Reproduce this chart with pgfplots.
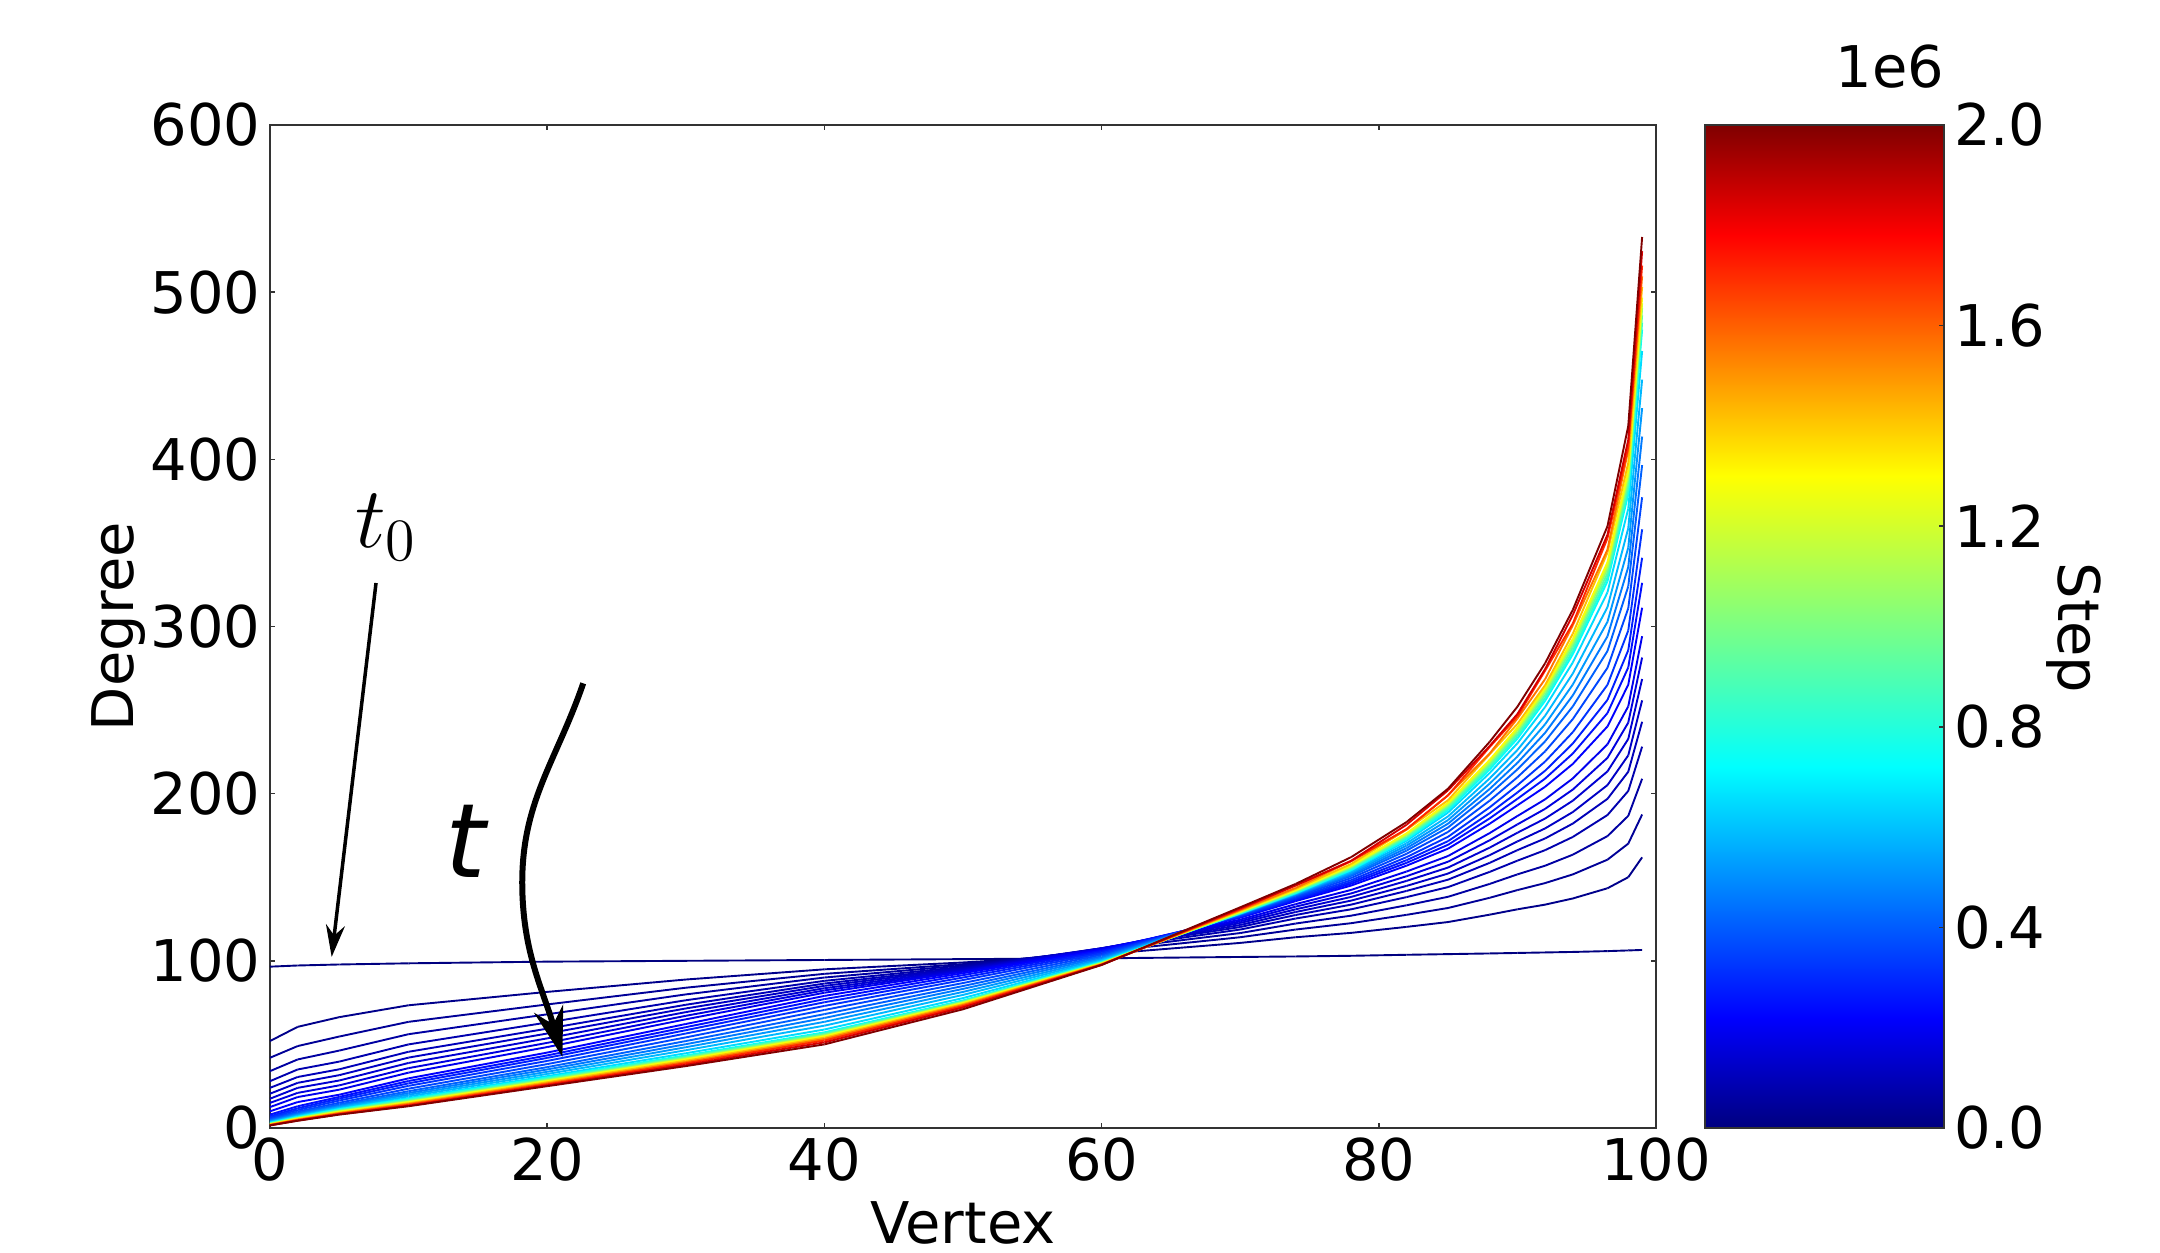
\documentclass[border=0pt]{standalone}
\usepackage[no-math]{fontspec}
\setmainfont{DejaVu Sans}
\usepackage{pgfplots}
\pgfplotsset{compat=1.18}
\usetikzlibrary{arrows.meta}
\newcommand\lbl{\fontsize{11.5}{13.8}\selectfont}
\pgfplotsset{
  every tick label/.append style={font=\lbl, inner sep=0pt},
  /pgf/number format/assume math mode=true,
}
\begin{document}
\begin{tikzpicture}
\useasboundingbox (-54pt,-25pt) rectangle (378pt,225.6pt);
\begin{axis}[
  at={(0,0)}, anchor=south west,
  scale only axis, width=277.2pt, height=200.6pt,
  xmin=0, xmax=100, ymin=0, ymax=600,
  xtick={0,20,40,60,80,100}, ytick={0,100,200,300,400,500,600},
  tick align=inside, major tick length=1pt,
  axis line style={black!80, line width=0.3pt},
  tick style={black!80, line width=0.3pt},
  xticklabel shift=1.8pt, yticklabel shift=1.7pt,
  xlabel={Vertex}, ylabel={Degree},
  label style={font=\lbl},
  xlabel style={at={(axis description cs:0.5,-0.0947)}, anchor=center},
  ylabel style={at={(axis description cs:-0.109,0.5)}, anchor=center},
  colormap={mpljet}{rgb(0pt)=(0,0,0.5); rgb(11pt)=(0,0,1); rgb(36pt)=(0,1,1); rgb(65pt)=(1,1,0); rgb(89pt)=(1,0,0); rgb(100pt)=(0.5,0,0)},
  point meta min=0, point meta max=2,
  colorbar,
  colorbar/width=47.8pt,
  colorbar style={
    at={(parent axis.north east)}, anchor=north west, xshift=1.27pt,
    scale only axis, width=47.8pt, height=200.6pt,
    ytick={0,0.4,0.8,1.2,1.6,2},
    yticklabel style={/pgf/number format/.cd, fixed, fixed zerofill, precision=1},
    ytick pos=right, yticklabel pos=right, tick align=inside,
    major tick length=1pt, yticklabel shift=1.8pt,
    axis line style={black!80, line width=0.3pt},
    tick style={black!80, line width=0.3pt},
  },
  every axis plot/.append style={line width=0.38pt},
]
\addplot[mesh, point meta=0] coordinates {(0,96.5)(2,97.2)(5,97.8)(10,98.5)(20,99.5)(30,100)(40,100.5)(50,101)(60,101.5)(70,102.3)(74,102.6)(78,103)(82,103.6)(85,104)(88,104.4)(90,104.7)(92,105)(94,105.3)(96.5,105.8)(98,106.2)(99,106.5)};
\addplot[mesh, point meta=0.02] coordinates {(0,52)(2,60.5)(5,66.3)(10,73.4)(20,81.4)(30,88.8)(40,94.9)(50,99)(60,104)(70,110.7)(74,114.1)(78,116.7)(82,120.3)(85,123.2)(88,127.6)(90,130.8)(92,133.6)(94,137.3)(96.5,143.4)(98,150)(99,161.9)};
\addplot[mesh, point meta=0.04] coordinates {(0,42)(2,49)(5,54.7)(10,63.5)(20,73.9)(30,83.9)(40,92.2)(50,98)(60,105.5)(70,114.1)(74,118.7)(78,122.5)(82,127.5)(85,131.6)(88,137.7)(90,142.3)(92,146.5)(94,151.7)(96.5,160.5)(98,170.1)(99,187.5)};
\addplot[mesh, point meta=0.06] coordinates {(0,34)(2,41)(5,46.3)(10,56.1)(20,68)(30,79.9)(40,90)(50,97.2)(60,106.5)(70,116.6)(74,122.3)(78,127)(82,133.2)(85,138.3)(88,146)(90,151.7)(92,156.9)(94,163.5)(96.5,174.6)(98,186.7)(99,208.9)};
\addplot[mesh, point meta=0.08] coordinates {(0,28)(2,35)(5,39.7)(10,50)(20,63.1)(30,76.4)(40,88)(50,96.4)(60,107)(70,118.7)(74,125.3)(78,130.8)(82,138.1)(85,144.1)(88,153.2)(90,159.9)(92,166.2)(94,174.1)(96.5,187.2)(98,201.6)(99,228.1)};
\addplot[mesh, point meta=0.10] coordinates {(0,24)(2,30.5)(5,35.1)(10,45.6)(20,59.4)(30,73.7)(40,86.4)(50,95.7)(60,107.5)(70,120.2)(74,127.4)(78,133.6)(82,141.8)(85,148.55)(88,158.6)(90,166.2)(92,173.2)(94,182.1)(96.5,196.9)(98,213.1)(99,243)};
\addplot[mesh, point meta=0.12] coordinates {(0,20.5)(2,27)(5,31.6)(10,42.1)(20,56.5)(30,71.5)(40,85)(50,95.2)(60,107.5)(70,121.4)(74,129.2)(78,136)(82,144.8)(85,152.2)(88,163.2)(90,171.4)(92,179.2)(94,189)(96.5,205.1)(98,222.9)(99,255.8)};
\addplot[mesh, point meta=0.14] coordinates {(0,17.5)(2,24)(5,28.4)(10,38.9)(20,53.6)(30,69.3)(40,83.6)(50,94.6)(60,107.5)(70,122.6)(74,130.8)(78,138.2)(82,147.8)(85,155.8)(88,167.7)(90,176.6)(92,185.1)(94,195.8)(96.5,213.3)(98,232.7)(99,268.6)};
\addplot[mesh, point meta=0.165] coordinates {(0,15)(2,21)(5,25.5)(10,35.8)(20,50.9)(30,67.1)(40,82.3)(50,94)(60,107.3)(70,123.6)(74,132.4)(78,140.3)(82,150.6)(85,159.3)(88,172.1)(90,181.6)(92,190.9)(94,202.45)(96.5,221.4)(98,242.5)(99,281.4)};
\addplot[mesh, point meta=0.19] coordinates {(0,12.5)(2,18.5)(5,22.9)(10,33.1)(20,48.4)(30,65)(40,80.9)(50,93.5)(60,107)(70,124.6)(74,133.9)(78,142.4)(82,153.4)(85,162.7)(88,176.4)(90,186.6)(92,196.6)(94,209.1)(96.5,229.5)(98,252.2)(99,294.2)};
\addplot[mesh, point meta=0.22] coordinates {(0,10)(2,15.5)(5,19.9)(10,29.7)(20,45.1)(30,62.2)(40,79)(50,92.6)(60,106.5)(70,125.8)(74,135.7)(78,145)(82,156.9)(85,167.1)(88,182)(90,193)(92,204.1)(94,217.8)(96.5,240.2)(98,265.1)(99,311.2)};
\addplot[mesh, point meta=0.25] coordinates {(0,8)(2,13)(5,18.6)(10,28.1)(20,43.4)(30,60.3)(40,77.1)(50,91.4)(60,106)(70,126.2)(74,136.4)(78,146.1)(82,158.6)(85,169.4)(88,185.2)(90,196.9)(92,209)(94,224)(96.5,248.2)(98,275.5)(99,326.1)};
\addplot[mesh, point meta=0.28] coordinates {(0,7)(2,11.8)(5,17.55)(10,26.7)(20,41.9)(30,58.5)(40,75.2)(50,90)(60,105.3)(70,126.5)(74,136.9)(78,147.1)(82,160.2)(85,171.6)(88,188.3)(90,200.7)(92,213.7)(94,230)(96.5,256.1)(98,285.8)(99,341.1)};
\addplot[mesh, point meta=0.32] coordinates {(0,6.2)(2,10.8)(5,16.4)(10,25.2)(20,40.1)(30,56.5)(40,73)(50,88.5)(60,104.5)(70,126.9)(74,137.6)(78,148.2)(82,162)(85,174.2)(88,191.8)(90,205)(92,219.2)(94,236.8)(96.5,265.1)(98,297.6)(99,358.1)};
\addplot[mesh, point meta=0.36] coordinates {(0,5.4)(2,9.8)(5,15.1)(10,23.5)(20,38.2)(30,54.2)(40,70.6)(50,86.7)(60,103.6)(70,127.35)(74,138.3)(78,149.5)(82,164)(85,177.1)(88,195.8)(90,209.8)(92,225.3)(94,244.6)(96.5,275.3)(98,310.9)(99,377.3)};
\addplot[mesh, point meta=0.41] coordinates {(0,4.8)(2,9)(5,14.1)(10,22)(20,36.4)(30,52)(40,68.1)(50,84.9)(60,102.7)(70,127.7)(74,139)(78,150.7)(82,165.9)(85,179.8)(88,199.7)(90,214.5)(92,231.3)(94,252.2)(96.5,285.3)(98,324)(99,396.5)};
\addplot[mesh, point meta=0.46] coordinates {(0,4.3)(2,8.3)(5,13.3)(10,20.9)(20,35)(30,50.1)(40,65.8)(50,83.2)(60,101.9)(70,127.9)(74,139.4)(78,151.55)(82,167.4)(85,182.05)(88,202.8)(90,218.4)(92,236.4)(94,258.8)(96.5,294.1)(98,335.6)(99,413.6)};
\addplot[mesh, point meta=0.52] coordinates {(0,3.9)(2,7.8)(5,12.7)(10,19.9)(20,33.6)(30,48.3)(40,63.5)(50,81.4)(60,101.1)(70,128.1)(74,139.8)(78,152.4)(82,168.9)(85,184.2)(88,206)(90,222.2)(92,241.5)(94,265.3)(96.5,302.8)(98,347.2)(99,430.6)};
\addplot[mesh, point meta=0.58] coordinates {(0,3.5)(2,7.3)(5,12.1)(10,18.9)(20,32.3)(30,46.5)(40,61.2)(50,79.6)(60,100.4)(70,128.2)(74,140.1)(78,153.2)(82,170.3)(85,186.4)(88,209.1)(90,226.1)(92,246.6)(94,271.9)(96.5,311.55)(98,358.8)(99,447.7)};
\addplot[mesh, point meta=0.65] coordinates {(0,3.2)(2,6.9)(5,11.5)(10,17.9)(20,31)(30,44.7)(40,58.9)(50,77.7)(60,99.8)(70,128.3)(74,140.4)(78,154)(82,171.8)(85,188.7)(88,212.35)(90,230.1)(92,251.8)(94,278.5)(96.5,320.4)(98,370.5)(99,464.8)};
\addplot[mesh, point meta=0.73] coordinates {(0,3)(2,6.6)(5,11.2)(10,17.4)(20,30.25)(30,43.4)(40,57.2)(50,76.3)(60,99.3)(70,128.4)(74,140.5)(78,154.3)(82,172.7)(85,190.1)(88,214.5)(90,232.9)(92,255.5)(94,283.4)(96.5,327)(98,379.2)(99,477.6)};
\addplot[mesh, point meta=0.82] coordinates {(0,2.8)(2,6.3)(5,10.8)(10,16.95)(20,29.7)(30,42.9)(40,56.7)(50,75.9)(60,99.1)(70,128.5)(74,140.8)(78,154.9)(82,173.5)(85,191.1)(88,215.8)(90,234.3)(92,257.2)(94,285.4)(96.5,329.5)(98,382.3)(99,481.8)};
\addplot[mesh, point meta=0.92] coordinates {(0,2.6)(2,6.1)(5,10.5)(10,16.5)(20,29.2)(30,42.3)(40,56.1)(50,75.6)(60,98.9)(70,128.7)(74,141.2)(78,155.5)(82,174.3)(85,192.1)(88,217.1)(90,235.8)(92,259)(94,287.5)(96.5,332)(98,385.5)(99,486.1)};
\addplot[mesh, point meta=1.03] coordinates {(0,2.45)(2,5.9)(5,10.1)(10,16)(20,28.7)(30,41.8)(40,55.6)(50,75.2)(60,98.7)(70,129)(74,141.7)(78,156.1)(82,175.1)(85,193.1)(88,218.3)(90,237.3)(92,260.7)(94,289.5)(96.5,334.6)(98,388.6)(99,490.4)};
\addplot[mesh, point meta=1.15] coordinates {(0,2.3)(2,5.7)(5,9.9)(10,15.7)(20,28.4)(30,41.4)(40,55.2)(50,75)(60,98.5)(70,129.2)(74,142)(78,156.5)(82,175.6)(85,193.8)(88,219.2)(90,238.3)(92,261.9)(94,291)(96.5,336.4)(98,390.8)(99,493.3)};
\addplot[mesh, point meta=1.28] coordinates {(0,2.2)(2,5.5)(5,9.6)(10,15.4)(20,28)(30,41)(40,54.8)(50,74.7)(60,98.3)(70,129.5)(74,142.3)(78,157)(82,176.25)(85,194.6)(88,220.2)(90,239.5)(92,263.3)(94,292.6)(96.5,338.4)(98,393.3)(99,496.7)};
\addplot[mesh, point meta=1.42] coordinates {(0,2)(2,5.2)(5,9.2)(10,14.8)(20,27.35)(30,40.2)(40,54)(50,74.1)(60,98.1)(70,129.9)(74,143)(78,157.9)(82,178.4)(85,196.1)(88,223.6)(90,241.7)(92,264.9)(94,295.7)(96.5,344.2)(98,398)(99,503.1)};
\addplot[mesh, point meta=1.56] coordinates {(0,1.85)(2,4.9)(5,8.8)(10,14.3)(20,26.7)(30,39.4)(40,53.2)(50,73.55)(60,97.9)(70,130.4)(74,143.6)(78,159.6)(82,178.6)(85,199.05)(88,224)(90,244.9)(92,268.5)(94,300.7)(96.5,346)(98,405.7)(99,509.5)};
\addplot[mesh, point meta=1.70] coordinates {(0,1.7)(2,4.7)(5,8.5)(10,13.8)(20,26.1)(30,38.7)(40,52.3)(50,72.9)(60,97.7)(70,130.8)(74,145.1)(78,159.6)(82,178.8)(85,199)(88,227.9)(90,246.1)(92,273.6)(94,301.8)(96.5,352.8)(98,407.4)(99,515.9)};
\addplot[mesh, point meta=1.85] coordinates {(0,1.6)(2,4.45)(5,8.15)(10,13.3)(20,25.5)(30,37.8)(40,51.2)(50,72.1)(60,97.6)(70,131.4)(74,145.1)(78,159.8)(82,181.4)(85,202)(88,228.5)(90,247.6)(92,274.5)(94,306.9)(96.5,354.9)(98,411.7)(99,524.5)};
\addplot[mesh, point meta=2.00] coordinates {(0,1.5)(2,4.3)(5,8)(10,13)(20,25)(30,37)(40,50)(50,71)(60,97.5)(70,132)(74,146)(78,162)(82,183)(85,203)(88,231)(90,252)(92,278)(94,310)(96.5,360)(98,420)(99,533)};
% annotations
\node[anchor=base, font=\fontsize{17}{20}\selectfont] at (axis cs:8.4,347) {$t_0$};
\draw[line width=0.7pt, -{Stealth[length=6.4pt,width=3.8pt]}] (axis cs:7.65,326) -- (axis cs:4.45,102.3);
\node[anchor=base, font=\fontsize{20.6}{24}\selectfont\itshape] at (axis cs:14.1,150) {t};
\draw[line width=1.2pt, -{Stealth[length=10pt,width=6pt]}] (axis cs:22.6,266) to[out=-109,in=90] (axis cs:18.2,147) to[out=-90,in=106] (axis cs:21.1,42.5);
\end{axis}
\node[anchor=base east, inner sep=0pt, font=\lbl] at (335pt,208pt) {1e6};
\node[rotate=-90, anchor=center, inner sep=0pt, font=\lbl] at (360.8pt,100pt) {Step};
\end{tikzpicture}
\end{document}
